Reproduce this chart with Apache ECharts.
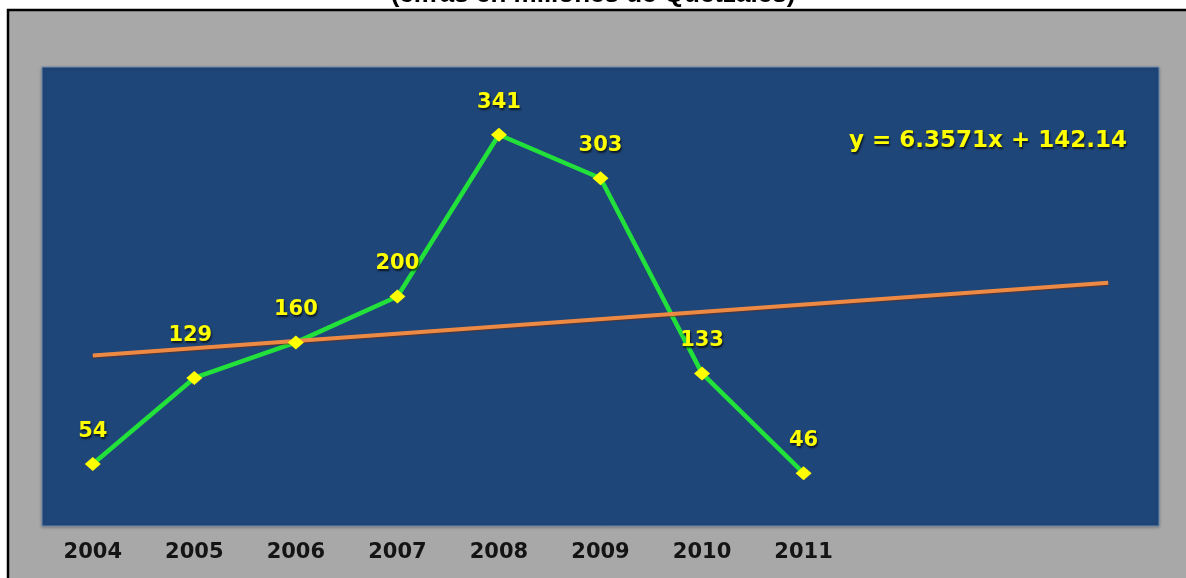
<!DOCTYPE html>
<html>
<head>
<meta charset="utf-8">
<style>
html,body{margin:0;padding:0;background:#ffffff;}
#chart{width:1186px;height:578px;}
</style>
<script src="https://cdn.jsdelivr.net/npm/echarts@6/dist/echarts.min.js"></script>
</head>
<body>
<div id="chart"></div>
<script>
// Data
var categories = ['2004','2005','2006','2007','2008','2009','2010','2011','','',''];
var values = [54, 129, 160, 200, 341, 303, 133, 46];
// Linear trend y = 6.3571x + 142.14 (endpoints as shown in picture)
var trendPoints = [[0, 148.50], [10, 212.07]];
var equationText = 'y = 6.3571x + 142.14';
var titleText = '(cifras en millones de Quetzales)';

var chart = echarts.init(document.getElementById('chart'));
var labelStyle = {
  show: true,
  position: 'top',
  distance: 15,
  color: '#ffff00',
  fontSize: 21,
  fontWeight: 'bold',
  fontFamily: 'DejaVu Sans, Verdana, sans-serif',
  textShadowColor: 'rgba(0,0,0,0.7)',
  textShadowBlur: 2,
  textShadowOffsetX: 1,
  textShadowOffsetY: 2
};
var scatterData = values.map(function (v, i) {
  var d = { value: v };
  if (i === 1) { d.label = { offset: [-4, -10] }; }
  return d;
});
chart.setOption({
  animation: false,
  backgroundColor: '#ffffff',
  graphic: [
    { type: 'rect', z: -10, shape: { x: 8, y: 10, width: 1200, height: 600 },
      style: { fill: '#a8a8a8', stroke: '#000000', lineWidth: 2.5 } },
    { type: 'text', z: 10, left: 'center', top: -18,
      style: { text: titleText, fill: '#000000', font: 'bold 26px Liberation Sans, Arial, sans-serif' } },
    { type: 'text', z: 10, left: 849, top: 130,
      style: { text: equationText, fill: '#ffff00', font: 'bold 23px DejaVu Sans, Verdana, sans-serif',
        textShadowColor: 'rgba(0,0,0,0.7)', textShadowBlur: 2, textShadowOffsetX: 1, textShadowOffsetY: 2 } }
  ],
  grid: {
    left: 42, top: 67, width: 1117, height: 459,
    show: true, backgroundColor: '#1f4678', borderColor: '#6f8db3', borderWidth: 1,
    shadowColor: 'rgba(0,0,0,0.25)', shadowBlur: 3, shadowOffsetY: 1
  },
  xAxis: {
    type: 'category', data: categories, boundaryGap: true,
    axisLine: { show: false }, axisTick: { show: false }, splitLine: { show: false },
    axisLabel: { color: '#141414', fontSize: 21, fontWeight: 'bold', margin: 16,
      fontFamily: 'DejaVu Sans, Verdana, sans-serif', interval: 0 }
  },
  yAxis: {
    type: 'value', min: 0, max: 400, show: false, splitLine: { show: false }
  },
  series: [
    { type: 'line', data: values, z: 2, showSymbol: false, symbol: 'none',
      lineStyle: { color: '#22e13a', width: 4.5 } },
    { type: 'line', data: trendPoints, z: 3, showSymbol: false, symbol: 'none',
      lineStyle: { color: '#ec8a45', width: 4, shadowColor: 'rgba(120,40,0,0.6)', shadowBlur: 1, shadowOffsetY: 1 } },
    { type: 'scatter', data: scatterData, z: 4, symbol: 'diamond', symbolSize: [16, 14],
      itemStyle: { color: '#ffff00', opacity: 1 }, label: labelStyle, emphasis: { disabled: true } }
  ]
});
</script>
</body>
</html>
